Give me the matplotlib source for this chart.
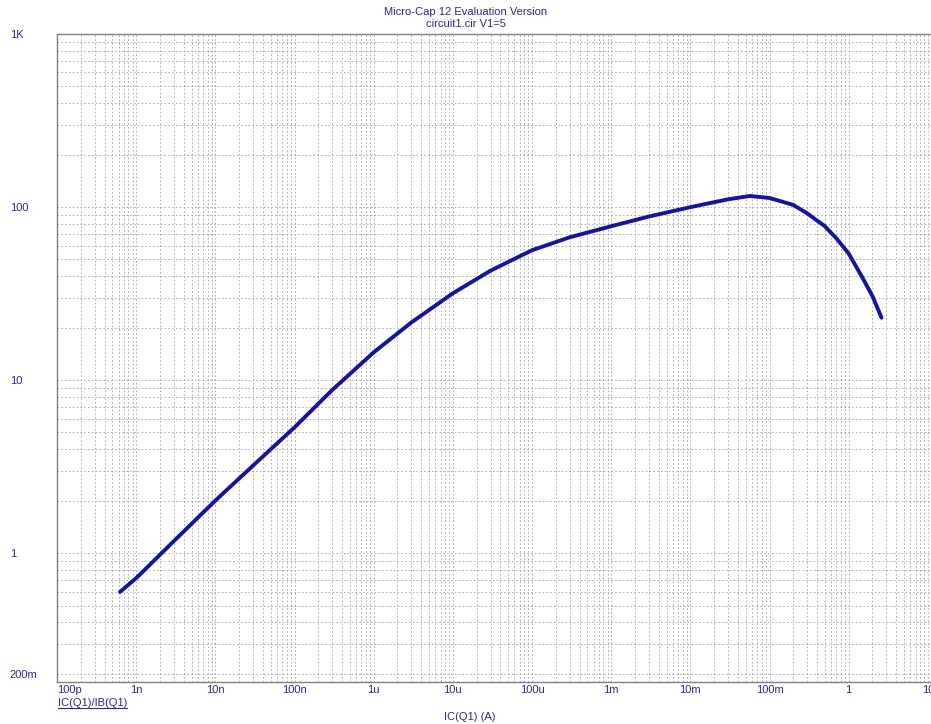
import matplotlib
matplotlib.use("Agg")
import matplotlib.pyplot as plt
from matplotlib.ticker import LogLocator, FixedLocator, NullFormatter
from matplotlib.lines import Line2D

plt.rcParams['font.family'] = ['Liberation Sans', 'DejaVu Sans']

# collector current IC(Q1) in A and current gain IC/IB
ic = [6.25e-10, 1e-9, 3e-9, 1e-8, 3e-8, 1e-7, 3e-7, 1e-6, 3e-6, 1e-5, 3e-5,
      1e-4, 3e-4, 1e-3, 3e-3, 1e-2, 3e-2, 5.6e-2, 1e-1, 2e-1, 3e-1, 5e-1,
      7e-1, 1.0, 1.5, 2.0, 2.6]
beta = [0.60, 0.72, 1.18, 2.02, 3.22, 5.35, 8.8, 14.5, 21.6, 31.8, 43.0,
        56.4, 67.0, 77.6, 88.3, 100, 111, 116, 113, 103, 92, 77.6,
        66, 54, 39, 30.6, 23]

x_ticks = [1e-10, 1e-9, 1e-8, 1e-7, 1e-6, 1e-5, 1e-4, 1e-3, 1e-2, 1e-1, 1, 10]
x_labels = ['100p', '1n', '10n', '100n', '1u', '10u', '100u', '1m', '10m', '100m', '1', '10']
y_ticks = [0.2, 1, 10, 100, 1000]
y_labels = ['200m', '1', '10', '100', '1K']

txt = '#2a2a8a'
W, H = 931, 724
fig = plt.figure(figsize=(W / 100, H / 100), dpi=100)
ax = fig.add_axes([57 / W, 1 - 682 / H, (931 - 57) / W, (682 - 34) / H])

ax.plot(ic, beta, color='#1414a0', lw=2.8, solid_capstyle='round',
        solid_joinstyle='round')

ax.set_xscale('log')
ax.set_yscale('log')
ax.set_xlim(1e-10, 10 ** 1.04)
ax.set_ylim(0.181, 1000)

ax.xaxis.set_major_locator(FixedLocator(x_ticks))
ax.set_xticklabels(x_labels)
ax.yaxis.set_major_locator(FixedLocator(y_ticks))
ax.set_yticklabels(y_labels)
ax.xaxis.set_minor_locator(LogLocator(base=10, subs=range(2, 10), numticks=50))
ax.yaxis.set_minor_locator(LogLocator(base=10, subs=range(2, 10), numticks=50))
ax.xaxis.set_minor_formatter(NullFormatter())
ax.yaxis.set_minor_formatter(NullFormatter())

ax.grid(True, which='both', color='#9a9a9a', lw=0.55, ls=(0, (2.2, 2.8)))
ax.tick_params(which='both', length=0, labelsize=8, labelcolor=txt)
ax.tick_params(axis='x', pad=2)
ax.tick_params(axis='y', pad=34)
for lab in ax.get_yticklabels():
    lab.set_horizontalalignment('left')
ax.get_xticklabels()[0].set_horizontalalignment('left')

for s in ['top', 'left', 'bottom']:
    ax.spines[s].set_color('#808080')
    ax.spines[s].set_linewidth(1)
ax.spines['right'].set_visible(False)

fig.text(466 / W, 1 - 12 / H, 'Micro-Cap 12 Evaluation Version', ha='center', va='center',
         fontsize=8, color=txt)
fig.text(466 / W, 1 - 24 / H, 'circuit1.cir V1=5', ha='center', va='center',
         fontsize=8, color=txt)
fig.text(470 / W, 1 - 717 / H, 'IC(Q1) (A)', ha='center', va='center',
         fontsize=8, color=txt)
leg = fig.text(58 / W, 1 - 703 / H, 'IC(Q1)/IB(Q1)', ha='left', va='center',
               fontsize=8, color=txt)

# underline the trace name like the simulator does
fig.canvas.draw()
bb = leg.get_window_extent().transformed(fig.transFigure.inverted())
fig.add_artist(Line2D([bb.x0, bb.x1], [bb.y0, bb.y0], transform=fig.transFigure,
                      color=txt, lw=0.8))

fig.savefig('out.png', dpi=100)
